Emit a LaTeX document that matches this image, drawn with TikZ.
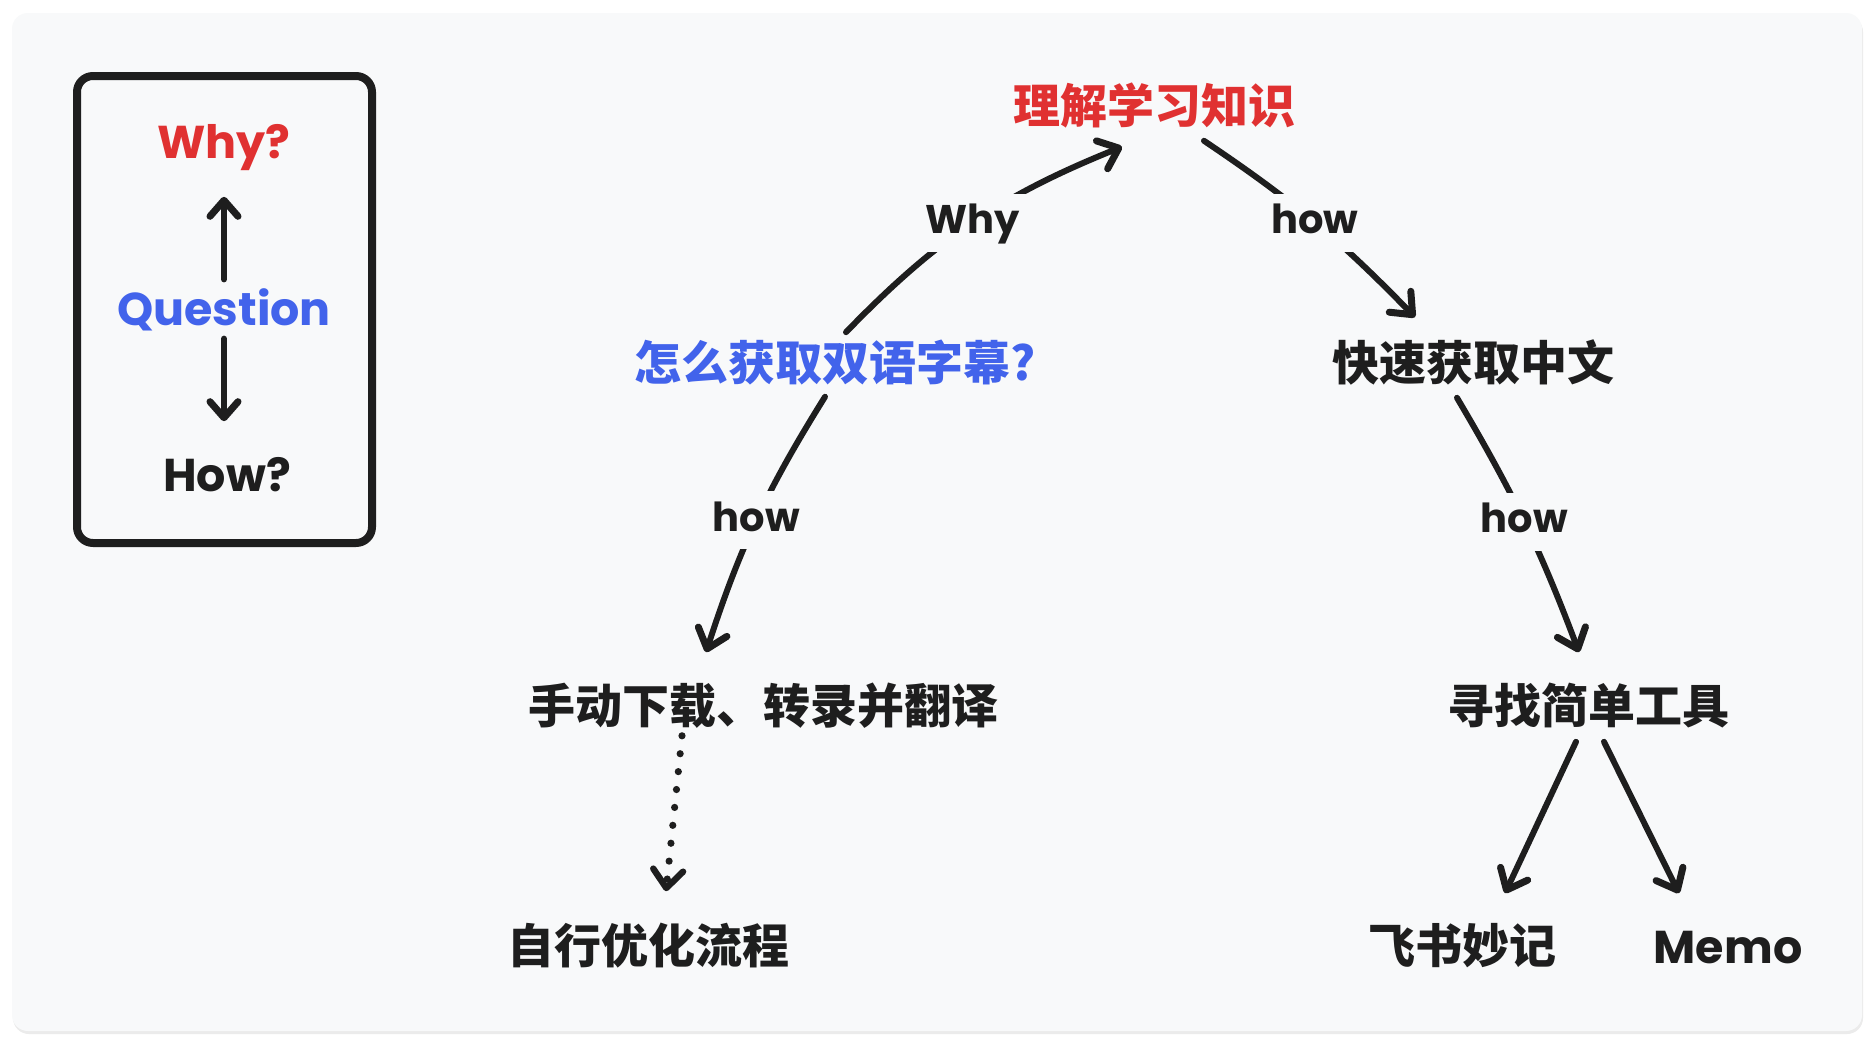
\documentclass[tikz,border=0pt]{standalone}
\usepackage{fontspec}
\setmainfont{Poppins}
\newfontfamily\cjk{Noto Sans CJK SC}
\usetikzlibrary{arrows.meta}
\definecolor{cardbg}{HTML}{F8F9FA}
\definecolor{inkc}{HTML}{1E1E1E}
\definecolor{redc}{HTML}{E03131}
\definecolor{bluec}{HTML}{4263EB}
\tikzset{
  lat/.style={inner sep=0pt, outer sep=0pt, text height=17.5pt, text depth=2.3pt, font=\fontsize{23pt}{26pt}\selectfont\bfseries},
  han/.style={inner sep=0pt, outer sep=0pt, text height=17.5pt, text depth=2.3pt, font=\fontsize{23.5pt}{26pt}\selectfont\cjk\bfseries},
  conn/.style={draw=inkc, line width=3pt, line cap=round, line join=round,
    -{Straight Barb[length=9pt, width=15pt, line width=3.5pt, round]}},
  legarr/.style={draw=inkc, line width=3.2pt, line cap=round,
    -{Straight Barb[length=8pt, width=14pt, line width=3.5pt, round]}},
  dotconn/.style={draw=inkc, line width=3.6pt, line cap=round, dash pattern=on 0pt off 9pt,
    -{Straight Barb[length=9pt, width=15pt, line width=3.2pt, round]}},
  lbl/.style={fill=cardbg, inner sep=5pt, text height=15pt, text depth=4pt, text=inkc,
    font=\fontsize{20pt}{22pt}\selectfont\bfseries}
}
\begin{document}
\begin{tikzpicture}[x=0.5pt, y=-0.5pt]
\useasboundingbox (0,0) rectangle (1876,1044);
\fill[white] (0,0) rectangle (1876,1044);
\fill[black!8, rounded corners=8pt] (13,16) rectangle (1863,1034);
\fill[cardbg, rounded corners=8pt] (12,13) rectangle (1862,1031);

% legend box
\draw[inkc, line width=4pt, rounded corners=8pt] (77,76) rectangle (372,543);
\node[lat, text=redc] (whyq) at (224,143) {Why?};
\node[lat, text=bluec] (question) at (224,310) {Question};
\node[lat, text=inkc] (howq) at (227,476) {How?};
\draw[legarr] ([yshift=5.5pt]question.north) -- ([yshift=-17pt]whyq.south);
\draw[legarr] ([yshift=-4.5pt]question.south) -- ([xshift=-1.5pt,yshift=17.5pt]howq.north);

% tree nodes
\node[han, text=redc] (root) at (1154,108) {理解学习知识};
\node[han, text=bluec] (q1) at (835,365) {怎么获取双语字幕?};
\node[han, text=inkc] (a1) at (763,708) {手动下载、转录并翻译};
\node[han, text=inkc] (a2) at (648,948) {自行优化流程};
\node[han, text=inkc] (b1) at (1473,365) {快速获取中文};
\node[han, text=inkc] (b2) at (1588,708) {寻找简单工具};
\node[han, text=inkc] (c1) at (1462,948) {飞书妙记};
\node[lat, text=inkc] (c2) at (1728,948) {Memo};

% connectors
\draw[conn] ([xshift=5.5pt,yshift=6.5pt]q1.north) to[bend left=12] node[lbl] {Why} ([xshift=-16pt,yshift=-9.5pt]root.south);
\draw[conn] ([xshift=25pt,yshift=-6.5pt]root.south) to[bend left=6] node[lbl] {how} ([xshift=-29pt,yshift=14pt]b1.north);
\draw[conn] ([xshift=-5pt,yshift=-6pt]q1.south) to[bend right=7] node[lbl] {how} ([xshift=-28.5pt,yshift=18pt]a1.north);
\draw[conn] ([xshift=-8pt,yshift=-6.5pt]b1.south) to[bend left=5] node[lbl] {how} ([xshift=-4.5pt,yshift=18pt]b2.north);
\draw[conn] ([xshift=-6pt,yshift=-7pt]b2.south) -- ([xshift=21.5pt,yshift=17.5pt]c1.north);
\draw[conn] ([xshift=8pt,yshift=-7pt]b2.south) -- ([xshift=-24.5pt,yshift=17.5pt]c2.north);
\draw[dotconn] ([xshift=-40.5pt,yshift=-4pt]a1.south) -- ([xshift=9pt,yshift=18.5pt]a2.north);
\end{tikzpicture}
\end{document}
